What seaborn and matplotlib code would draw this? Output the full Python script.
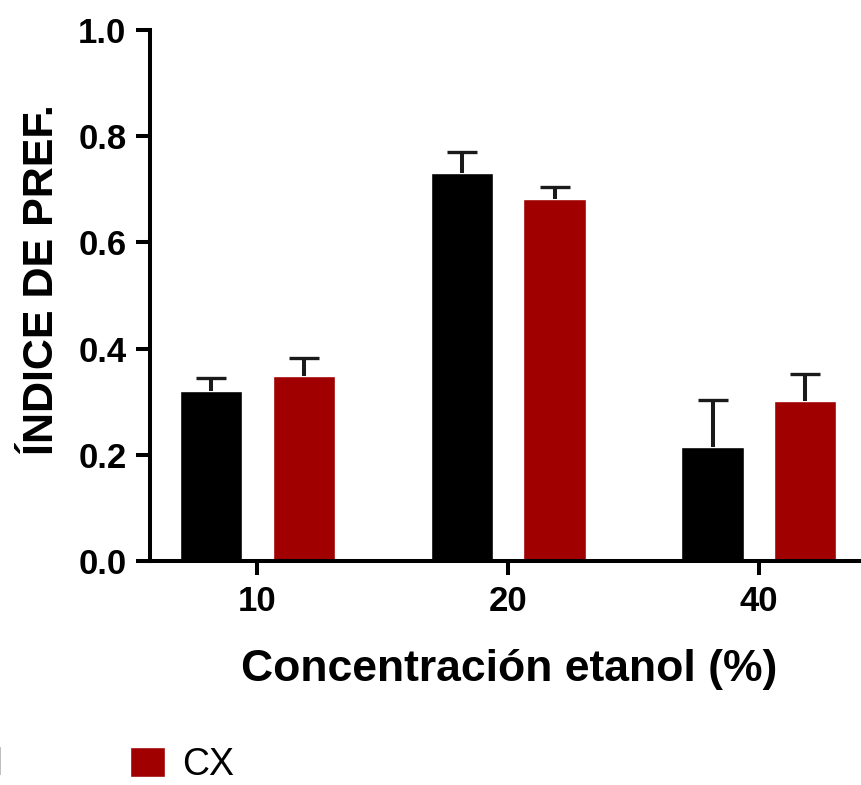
import numpy as np
import pandas as pd
import seaborn as sns
import matplotlib.pyplot as plt

# values
concentracion = ["10", "20", "40"]
grupos = ["Control", "CX"]
control_media = [0.320, 0.730, 0.215]
control_err = [0.024, 0.040, 0.088]
cx_media = [0.348, 0.682, 0.302]
cx_err = [0.034, 0.023, 0.051]

df = pd.DataFrame({
    "conc": concentracion * 2,
    "grupo": [grupos[0]] * 3 + [grupos[1]] * 3,
    "indice": control_media + cx_media,
    "err": control_err + cx_err,
})

sns.set_style("ticks")
plt.rcParams["font.family"] = ["Liberation Sans", "DejaVu Sans"]
plt.rcParams.update({"text.color": "black", "axes.labelcolor": "black",
                     "xtick.color": "black", "ytick.color": "black",
                     "axes.edgecolor": "black"})

fig = plt.figure(figsize=(8.61, 7.85), dpi=100)
ax = fig.add_axes([150 / 861, 224 / 785, 1 - 150 / 861, 531 / 785])

colores = {"Control": "#000000", "CX": "#a00000"}
sns.barplot(data=df, x="conc", y="indice", hue="grupo", order=concentracion,
            hue_order=grupos, palette=colores, width=0.74, gap=0.33,
            errorbar=None, saturation=1, ax=ax)

# upper error bars only, placed on the bar centres
for bars, g in zip(ax.containers, grupos):
    sub = df[df["grupo"] == g]
    xs = [b.get_x() + b.get_width() / 2 for b in bars]
    ys = [b.get_height() for b in bars]
    eb = ax.errorbar(xs, ys, yerr=[np.zeros(len(xs)), sub["err"].values],
                     fmt="none", ecolor="#1a1a1a", elinewidth=2.9,
                     capsize=11, capthick=2.4, zorder=1)
    # hide the cap that sits on the bar top (zero lower error)
    for cap in eb[1]:
        if np.allclose(cap.get_ydata(), ys):
            cap.set_visible(False)

ax.set_xlim(-0.428, 2.407)
ax.set_ylim(0, 1.0)
ax.set_yticks([0, 0.2, 0.4, 0.6, 0.8, 1.0])
ax.set_yticklabels(["0.0", "0.2", "0.4", "0.6", "0.8", "1.0"])

for s in ["top", "right"]:
    ax.spines[s].set_visible(False)
for s in ["left", "bottom"]:
    ax.spines[s].set_linewidth(2.9)
ax.tick_params(axis="both", width=2.9, length=10, pad=7, labelsize=25)
for lab in ax.get_xticklabels() + ax.get_yticklabels():
    lab.set_fontweight("bold")

ax.set_xlabel("Concentración etanol (%)", fontsize=32, fontweight="bold")
ax.set_ylabel("ÍNDICE DE PREF.", fontsize=31, fontweight="bold")
ax.xaxis.set_label_coords(0.505, -0.165)
ax.yaxis.set_label_coords(-0.124, 0.53)

sns.move_legend(ax, "lower left", bbox_to_anchor=(-170 / 861, 2 / 785),
                bbox_transform=fig.transFigure, ncol=2, frameon=False,
                title=None, fontsize=27, handlelength=0.91, handleheight=0.83,
                handletextpad=0.48, columnspacing=3.4, borderpad=0,
                borderaxespad=0)

fig.savefig("out.png", dpi=100)
